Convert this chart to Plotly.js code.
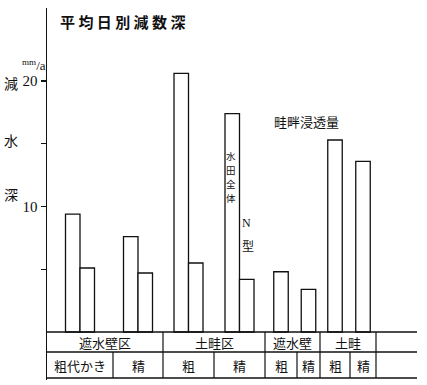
<!DOCTYPE html>
<html><head><meta charset="utf-8">
<script src="https://cdn.plot.ly/plotly-3.0.1.min.js"></script>
<style>html,body{margin:0;padding:0;background:#fff;}#chart{width:427px;height:385px;}</style>
</head><body><div id="chart"></div>
<script>
// ---- data ----
const groupLabels = ['遮水壁区', '土畦区', '遮水壁', '土畦'];
const subLabels = ['粗代かき', '精', '粗', '精', '粗', '精', '粗', '精'];
const wholeField = [9.4, 7.6, 20.6, 17.4];    // 水田全体
const nType = [5.1, 4.7, 5.5, 4.2];           // N型
const leveeSeepage = [4.8, 3.4, 15.3, 13.6];  // 畦畔浸透量
const yTickVals = [10, 20];
const yTickText = ['10', '20'];
const yMinorTicks = [5, 15];

// ---- layout constants ----
const W = 427, H = 385, L = 47, R = 0, T = 8, B = 5;
const pxPerUnit = 12.55, zeroPx = 332;
const yMin = -(H - B - zeroPx) / pxPerUnit;
const yMax = (zeroPx - T) / pxPerUnit;
const cellEdges = [0, 66, 116, 167, 218, 250, 273, 303, 329];
const groupEdges = [0, 116, 218, 273, 329];
const tableEnd = 370;
const row1Y = -(352 - zeroPx) / pxPerUnit;
const rowBottom = -(378 - zeroPx) / pxPerUnit;
const barW = 14.5;
const cellCenter = i => (cellEdges[i] + cellEdges[i + 1]) / 2;
const groupCenter = i => (groupEdges[i] + groupEdges[i + 1]) / 2;
const px = xp => (xp - L) / (W - L - R);
const py = yp => (H - B - yp) / (H - T - B);

const CJK = 'Noto Sans CJK JP, Noto Sans CJK SC, sans-serif';
const SERIF = 'Liberation Serif, DejaVu Serif, serif';
const INK = '#111';

const barStyle = {color: '#fff', line: {color: INK, width: 1.3}};
const traces = [
  {type: 'bar', name: '水田全体', x: wholeField.map((v, i) => cellCenter(i) - barW / 2), y: wholeField, width: barW, marker: barStyle},
  {type: 'bar', name: 'N型', x: nType.map((v, i) => cellCenter(i) + barW / 2), y: nType, width: barW, marker: barStyle},
  {type: 'bar', name: '畦畔浸透量', x: leveeSeepage.map((v, i) => cellCenter(4 + i)), y: leveeSeepage, width: barW, marker: barStyle}
];

const ann = [];
function txt(text, xp, yp, size, font, extra) {
  ann.push(Object.assign({text: text, xref: 'paper', yref: 'paper', x: px(xp), y: py(yp),
    xanchor: 'center', yanchor: 'middle', showarrow: false,
    font: {family: font || CJK, size: size, color: INK}}, extra || {}));
}
txt('<b>平 均 日 別 減 数 深</b>', 122, 22, 15);
txt('減', 11, 83, 14); txt('水', 11, 140, 14); txt('深', 11, 194, 14);
txt('<sup>mm</sup>/a', 34, 65, 13, SERIF);
txt('畦畔浸透量', 306, 122, 13);
Array.from('水田全体').forEach((c, i) => txt(c, 231, 156 + i * 13.9, 9.5));
txt('N', 246, 223, 12, SERIF);
txt('型', 248, 245, 12);

const shapes = [];
function hline(y) { shapes.push({type: 'line', xref: 'x', yref: 'y', x0: 0, x1: tableEnd, y0: y, y1: y, line: {color: INK, width: 1.4}, layer: 'above'}); }
function vline(x, y0, y1) { shapes.push({type: 'line', xref: 'x', yref: 'y', x0: x, x1: x, y0: y0, y1: y1, line: {color: INK, width: 1.2}, layer: 'above'}); }
hline(0); hline(row1Y); hline(rowBottom);
groupEdges.slice(1).forEach(e => vline(e, row1Y, 0));
cellEdges.slice(1).forEach(e => vline(e, rowBottom, row1Y));

groupLabels.forEach((g, i) => ann.push({text: g, xref: 'x', yref: 'y', x: groupCenter(i), y: row1Y / 2,
  xanchor: 'center', yanchor: 'middle', showarrow: false, font: {family: CJK, size: 13, color: INK}}));
subLabels.forEach((s, i) => ann.push({text: s, xref: 'x', yref: 'y', x: cellCenter(i), y: (row1Y + rowBottom) / 2,
  xanchor: 'center', yanchor: 'middle', showarrow: false, font: {family: CJK, size: 13, color: INK}}));

const layout = {
  width: W, height: H, margin: {l: L, r: R, t: T, b: B},
  paper_bgcolor: '#fff', plot_bgcolor: '#fff', showlegend: false, barmode: 'overlay',
  xaxis: {range: [0, W - L - R], visible: false, fixedrange: true},
  yaxis: {range: [yMin, yMax], showgrid: false, zeroline: false, showline: true, linecolor: INK, linewidth: 1.5,
    ticks: 'outside', ticklen: 5, tickwidth: 1.2, tickcolor: INK, tickvals: yTickVals, ticktext: yTickText,
    tickfont: {family: SERIF, size: 15, color: INK},
    minor: {tickvals: yMinorTicks, ticks: 'outside', ticklen: 5, tickwidth: 1.2, tickcolor: INK, showgrid: false}},
  annotations: ann, shapes: shapes
};
Plotly.newPlot('chart', traces, layout, {staticPlot: true, displayModeBar: false});
</script></body></html>
